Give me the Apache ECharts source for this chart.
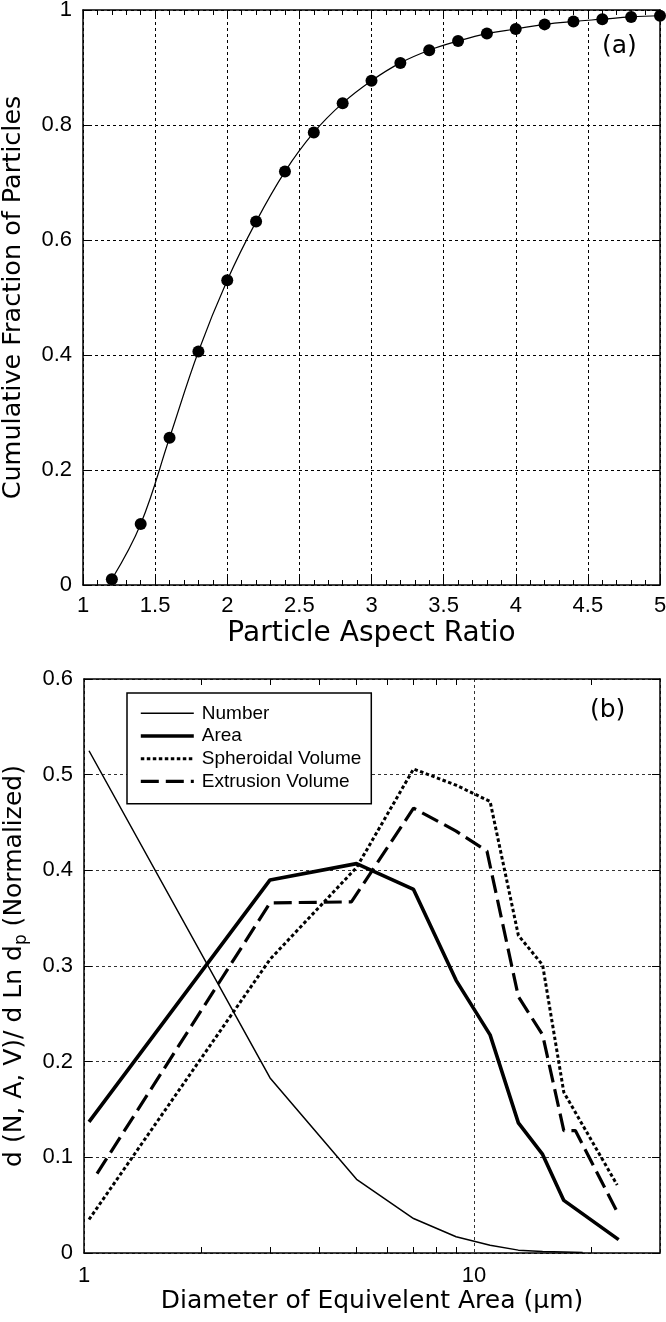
<!DOCTYPE html>
<html><head><meta charset="utf-8">
<script src="https://cdn.jsdelivr.net/npm/echarts@6/dist/echarts.min.js"></script>
<style>html,body{margin:0;padding:0;background:#fff}#c{width:666px;height:1322px}</style>
</head><body><div id="c"></div>
<script>
// ---- Panel (a): cumulative fraction vs aspect ratio ----
const aspectRatio = [1.2, 1.4, 1.6, 1.8, 2.0, 2.2, 2.4, 2.6, 2.8, 3.0, 3.2, 3.4, 3.6, 3.8, 4.0, 4.2, 4.4, 4.6, 4.8, 5.0];
const cumFraction = [0.010, 0.106, 0.256, 0.406, 0.530, 0.632, 0.719, 0.787, 0.838, 0.877, 0.908, 0.930, 0.946, 0.959, 0.967, 0.975, 0.980, 0.984, 0.988, 0.990];

// ---- Panel (b): normalized size distributions ----
const numberX = [1.03, 3, 5, 7, 9, 11, 13, 15, 17, 19];
const numberY = [0.525, 0.183, 0.077, 0.036, 0.017, 0.008, 0.003, 0.0015, 0.001, 0.0004];
const areaX = [1.03, 3, 5, 7, 9, 11, 13, 15, 17, 23.5];
const areaY = [0.137, 0.390, 0.407, 0.380, 0.285, 0.228, 0.136, 0.103, 0.055, 0.014];
const spheroidX = [1.03, 3, 5, 7, 9, 11, 13, 15, 17, 23.3];
const spheroidY = [0.035, 0.307, 0.403, 0.506, 0.489, 0.472, 0.332, 0.301, 0.168, 0.071];
const extrusionX = [1.08, 3, 4.85, 7, 9, 10.8, 13, 15, 17, 18.2, 23.5];
const extrusionY = [0.083, 0.366, 0.367, 0.465, 0.441, 0.420, 0.268, 0.228, 0.128, 0.128, 0.040];

// tick labels / tick positions
const logLabelValues = [1, 10];
const logTickValues = [2, 3, 4, 5, 6, 7, 8, 9, 20];
const seriesNames = ['Number', 'Area', 'Spheroidal Volume', 'Extrusion Volume'];

const zip = (xs, ys) => xs.map((x, i) => [x, ys[i]]);

const TICK_FONT = 'Liberation Sans';
const TITLE_FONT = 'DejaVu Sans';
const BLACK = '#000';
const axisLine = { show: true, onZero: false, lineStyle: { color: BLACK, width: 1.5 } };
const gridLineA = { show: true, lineStyle: { color: BLACK, width: 1, type: [3, 3] } };
const gridLineB = { show: true, lineStyle: { color: '#333', width: 1, type: [3, 3] } };
const tickLabel = { fontFamily: TICK_FONT, fontSize: 22, color: BLACK };
const titleStyle = { fontFamily: TITLE_FONT, fontSize: 25, color: BLACK };

const lineStyles = {
  'Number': { color: BLACK, width: 1.5, type: 'solid' },
  'Area': { color: BLACK, width: 3.6, type: 'solid' },
  'Spheroidal Volume': { color: BLACK, width: 3, type: [3.5, 2.5] },
  'Extrusion Volume': { color: BLACK, width: 3.2, type: [18, 7] }
};

const chart = echarts.init(document.getElementById('c'), null, { renderer: 'canvas' });

const option = {
  backgroundColor: '#fff',
  animation: false,
  grid: [
    { left: 83, top: 10, width: 577, height: 575, containLabel: false, outerBoundsMode: 'none' },
    { left: 84, top: 679, width: 576, height: 574, containLabel: false, outerBoundsMode: 'none' }
  ],
  xAxis: [
    { // 0: panel a bottom
      type: 'value', gridIndex: 0, position: 'bottom', min: 1, max: 5, interval: 0.5,
      axisLine: axisLine,
      axisTick: { show: true, inside: true, length: 8, lineStyle: { color: BLACK } },
      minorTick: { show: true, splitNumber: 5, length: 5, lineStyle: { color: BLACK } },
      splitLine: gridLineA,
      axisLabel: Object.assign({ margin: 10 }, tickLabel),
      name: 'Particle Aspect Ratio', nameLocation: 'middle', nameGap: 35,
      nameTextStyle: Object.assign({}, titleStyle, { fontSize: 28 })
    },
    { // 1: panel a top
      type: 'value', gridIndex: 0, position: 'top', min: 1, max: 5, interval: 0.5,
      axisLine: axisLine,
      axisTick: { show: true, inside: true, length: 8, lineStyle: { color: BLACK } },
      minorTick: { show: true, splitNumber: 5, length: 5, lineStyle: { color: BLACK } },
      splitLine: { show: false }, axisLabel: { show: false }
    },
    { // 2: panel b bottom (labels + grid)
      type: 'log', logBase: 10, gridIndex: 1, position: 'bottom', min: 1, max: 30,
      axisLine: axisLine,
      axisTick: { show: false },
      splitLine: gridLineB,
      axisLabel: Object.assign({ margin: 12, customValues: logLabelValues, formatter: v => String(v) }, tickLabel),
      name: 'Diameter of Equivelent Area (\u03bcm)', nameLocation: 'middle', nameGap: 36, nameTextStyle: titleStyle
    },
    { // 3: panel b bottom ticks
      type: 'log', logBase: 10, gridIndex: 1, position: 'bottom', offset: 0, min: 1, max: 30,
      axisLine: { show: false },
      axisTick: { show: true, inside: true, length: 6, customValues: logTickValues, lineStyle: { color: BLACK } },
      splitLine: { show: false }, axisLabel: { show: false }
    },
    { // 4: panel b top
      type: 'log', logBase: 10, gridIndex: 1, position: 'top', min: 1, max: 30,
      axisLine: axisLine,
      axisTick: { show: true, inside: true, length: 6, customValues: logTickValues, lineStyle: { color: BLACK } },
      splitLine: { show: false }, axisLabel: { show: false }
    }
  ],
  yAxis: [
    { // 0: panel a left
      type: 'value', gridIndex: 0, position: 'left', min: 0, max: 1, interval: 0.2,
      axisLine: axisLine,
      axisTick: { show: true, inside: true, length: 8, lineStyle: { color: BLACK } },
      splitLine: gridLineA,
      axisLabel: Object.assign({ margin: 11 }, tickLabel),
      name: 'Cumulative Fraction of Particles', nameLocation: 'middle', nameRotate: 90, nameGap: 57,
      nameTextStyle: Object.assign({}, titleStyle, { fontSize: 25.5 })
    },
    { // 1: panel a right
      type: 'value', gridIndex: 0, position: 'right', min: 0, max: 1, interval: 0.2,
      axisLine: axisLine,
      axisTick: { show: true, inside: true, length: 8, lineStyle: { color: BLACK } },
      splitLine: { show: false }, axisLabel: { show: false }
    },
    { // 2: panel b left
      type: 'value', gridIndex: 1, position: 'left', min: 0, max: 0.6, interval: 0.1,
      axisLine: axisLine,
      axisTick: { show: true, inside: true, length: 8, lineStyle: { color: BLACK } },
      splitLine: gridLineB,
      axisLabel: Object.assign({ margin: 11 }, tickLabel),
      name: '{n|d (N, A, V)/ d Ln d}{s|p}{n| (Normalized)}', nameLocation: 'middle', nameRotate: 90, nameGap: 54,
      nameTextStyle: {
        color: BLACK,
        rich: {
          n: { fontFamily: TITLE_FONT, fontSize: 25, color: BLACK },
          s: { fontFamily: TITLE_FONT, fontSize: 17, color: BLACK, padding: [14, 0, 0, 0] }
        }
      }
    },
    { // 3: panel b right
      type: 'value', gridIndex: 1, position: 'right', min: 0, max: 0.6, interval: 0.1,
      axisLine: axisLine,
      axisTick: { show: true, inside: true, length: 8, lineStyle: { color: BLACK } },
      splitLine: { show: false }, axisLabel: { show: false }
    }
  ],
  legend: {
    orient: 'vertical', left: 127, top: 693,
    backgroundColor: '#fff', borderColor: BLACK, borderWidth: 1.5, borderRadius: 0,
    padding: [9, 10, 11, 12],
    itemWidth: 53, itemHeight: 14, itemGap: 0,
    itemStyle: { opacity: 0, color: 'transparent', borderColor: 'transparent', borderWidth: 0 },
    textStyle: { fontFamily: TICK_FONT, fontSize: 19, color: BLACK, lineHeight: 22.7, padding: [0, 0, 0, 3] },
    data: seriesNames.map(n => ({ name: n, lineStyle: lineStyles[n], itemStyle: { opacity: 0 } }))
  },
  graphic: [
    { type: 'text', left: 602, top: 34, style: { text: '(a)', fontFamily: TITLE_FONT, fontSize: 25, fill: BLACK } },
    { type: 'text', left: 590, top: 698, style: { text: '(b)', fontFamily: TITLE_FONT, fontSize: 25, fill: BLACK } }
  ],
  series: [
    {
      type: 'line', xAxisIndex: 0, yAxisIndex: 0, data: zip(aspectRatio, cumFraction),
      smooth: 0.4, symbol: 'circle', symbolSize: 12, color: BLACK,
      lineStyle: { color: BLACK, width: 1.2 }, itemStyle: { color: BLACK }, z: 5
    },
    {
      name: seriesNames[0], type: 'line', xAxisIndex: 2, yAxisIndex: 2, data: zip(numberX, numberY),
      symbol: 'none', color: BLACK, lineStyle: lineStyles['Number']
    },
    {
      name: seriesNames[1], type: 'line', xAxisIndex: 2, yAxisIndex: 2, data: zip(areaX, areaY),
      symbol: 'none', color: BLACK, lineStyle: lineStyles['Area']
    },
    {
      name: seriesNames[2], type: 'line', xAxisIndex: 2, yAxisIndex: 2, data: zip(spheroidX, spheroidY),
      symbol: 'none', color: BLACK, lineStyle: lineStyles['Spheroidal Volume']
    },
    {
      name: seriesNames[3], type: 'line', xAxisIndex: 2, yAxisIndex: 2, data: zip(extrusionX, extrusionY),
      symbol: 'none', color: BLACK, lineStyle: lineStyles['Extrusion Volume']
    }
  ]
};
chart.setOption(option);
</script>
</body></html>
